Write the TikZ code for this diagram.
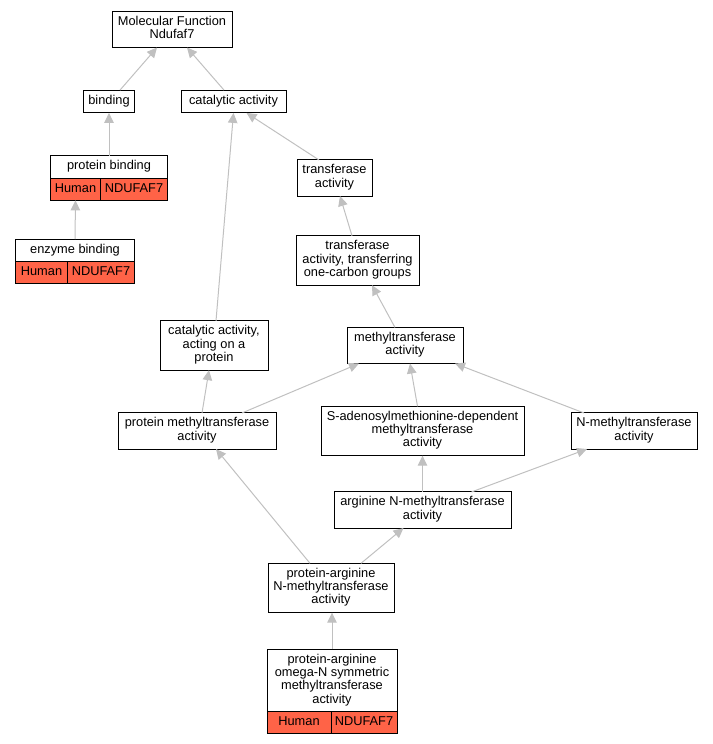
\documentclass[tikz,border=0pt]{standalone}
\usepackage{fontspec}
\setsansfont{Liberation Sans}
\usepackage{xcolor}
\usetikzlibrary{arrows.meta,positioning}
\definecolor{tomato}{HTML}{FF6347}
\definecolor{edgegray}{HTML}{C0C0C0}

\begin{document}
\begin{tikzpicture}[
    x=1pt, y=1pt,
    node distance=80pt,
    >={Triangle[length=10pt,width=9.5pt]},
    font=\sffamily\fontsize{12.8}{13.3}\selectfont,
    term/.style={
		rectangle,
		draw=black,
		line width=1pt,
		align=center,
		inner xsep=5pt,
		inner ysep=4.75pt,
		outer sep=0pt,
		fill=white,
		execute at begin node=\strut,
		execute at end node=\strut
	},
	gene/.style={
		term,
		fill=tomato,
		inner xsep=2pt,
		inner ysep=0pt,
		minimum height=22pt
	},
	link/.style={
		draw=edgegray,
		line width=1pt,
		->
	}
  ]
  \useasboundingbox (0,0) rectangle (712,-744);

    % We start by placing the terms
  \node [term, minimum width=120pt] (mf) at (172,-29.5) {Molecular Function\\Ndufaf7};
  \node [term, below of=mf, xshift=-63pt, yshift=8pt, minimum width=50pt] (binding) {binding};
  \node [term, below of=mf, xshift=61.5pt, yshift=8pt, minimum width=105pt] (catalytic) {catalytic activity};

  \node [term, below of=binding, yshift=14.5pt, minimum width=117pt] (protbind) {protein binding};
  \node [gene, anchor=north west, minimum width=50pt] (protbindH) at (protbind.south west) {Human};
  \node [gene, right=0pt of protbindH, minimum width=67pt] (protbindN) {NDUFAF7};

  \node [term, below of=protbind, xshift=-34pt, yshift=-3.5pt, minimum width=119pt] (enzbind) {enzyme binding};
  \node [gene, anchor=north west, minimum width=52pt] (enzbindH) at (enzbind.south west) {Human};
  \node [gene, right=0pt of enzbindH, minimum width=67pt] (enzbindN) {NDUFAF7};

  \node [term, below of=catalytic, xshift=101pt, yshift=3.5pt, minimum width=75pt] (transferase) {transferase\\activity};
  \node [term, below of=transferase, xshift=23pt, yshift=-2.5pt, minimum width=123pt] (onecarbon) {transferase\\activity, transferring\\one-carbon groups};
  \node [term, below of=onecarbon, xshift=-143.5pt, yshift=-5pt, minimum width=108pt] (acting) {catalytic activity,\\acting on a\\protein};
  \node [term, below of=onecarbon, xshift=47.5pt, yshift=-5pt, minimum width=116pt] (methyl) {methyltransferase\\activity};

  \node [term, below of=acting, xshift=-17pt, yshift=-5.5pt, minimum width=158pt] (protmethyl) {protein methyltransferase\\activity};
  \node [term, below of=methyl, xshift=17.5pt, yshift=-5.5pt, minimum width=203pt] (sadenosyl) {S-adenosylmethionine-dependent\\methyltransferase\\activity};
  \node [term, below of=methyl, xshift=229pt, yshift=-5.5pt, minimum width=126pt] (nmethyl) {N-methyltransferase\\activity};

  \node [term, below of=sadenosyl, yshift=1pt, minimum width=177pt] (argnmethyl) {arginine N-methyltransferase\\activity};
  \node [term, below of=argnmethyl, xshift=-91.5pt, yshift=2pt, minimum width=126pt] (pargn) {protein-arginine\\N-methyltransferase\\activity};

  \node [term, below of=pargn, xshift=1pt, yshift=-12.5pt, minimum width=130pt] (symm) {protein-arginine\\omega-N symmetric\\methyltransferase\\activity};
  \node [gene, anchor=north west, minimum width=64pt] (symmH) at (symm.south west) {Human};
  \node [gene, right=0pt of symmH, minimum width=66pt] (symmN) {NDUFAF7};

    % Then the is_a links, child to parent
  \draw [link] ([xshift=11pt]binding.north) -- ([xshift=-15pt]mf.south);
  \draw [link] ([xshift=-9.5pt]catalytic.north) -- ([xshift=15pt]mf.south);
  \draw [link] (protbind.north) -- (binding.south);
  \draw [link] (enzbind.north) -- (protbindH.south);
  \draw [link] ([xshift=2pt]acting.north) -- (catalytic.south);
  \draw [link] ([xshift=-15.5pt]transferase.north) -- ([xshift=13pt]catalytic.south);
  \draw [link] ([xshift=-5.5pt]onecarbon.north) -- ([xshift=5.5pt]transferase.south);
  \draw [link] ([xshift=-10pt]methyl.north) -- ([xshift=14.5pt]onecarbon.south);
  \draw [link] ([xshift=5pt]protmethyl.north) -- ([xshift=-5pt]acting.south);
  \draw [link] ([xshift=45pt]protmethyl.north) -- ([xshift=-46pt]methyl.south);
  \draw [link] ([xshift=-5pt]sadenosyl.north) -- ([xshift=5pt]methyl.south);
  \draw [link] ([xshift=-50pt]nmethyl.north) -- ([xshift=50pt]methyl.south);
  \draw [link] (argnmethyl.north) -- (sadenosyl.south);
  \draw [link] ([xshift=49pt]argnmethyl.north) -- ([xshift=-47pt]nmethyl.south);
  \draw [link] ([xshift=-21pt]pargn.north) -- ([xshift=19pt]protmethyl.south);
  \draw [link] ([xshift=30pt]pargn.north) -- ([xshift=-19pt]argnmethyl.south);
  \draw [link] (symm.north) -- (symm.north |- pargn.south);

\end{tikzpicture}
\end{document}
